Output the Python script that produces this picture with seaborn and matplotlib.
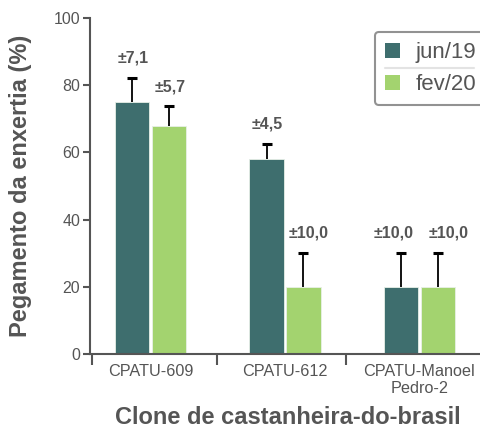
import matplotlib
matplotlib.use("Agg")
import matplotlib.pyplot as plt
from matplotlib.lines import Line2D
from matplotlib.patches import Patch
import numpy as np
import pandas as pd
import seaborn as sns

# %% DATA ────────────────────────────────────────────────────────────────
clones = ["CPATU-609", "CPATU-612", "CPATU-Manoel\nPedro-2"]
periods = ["jun/19", "fev/20"]
jun19_vals = [75.0, 58.0, 20.0]
fev20_vals = [68.0, 20.0, 20.0]
jun19_err = [7.1, 4.5, 10.0]
fev20_err = [5.7, 10.0, 10.0]
err_labels = {"jun/19": ["±7,1", "±4,5", "±10,0"],
              "fev/20": ["±5,7", "±10,0", "±10,0"]}
yticks = [0, 20, 40, 60, 80, 100]

# %% STYLE ───────────────────────────────────────────────────────────────
sns.set_theme(style="ticks")
plt.rcParams["font.family"] = ["Liberation Sans", "DejaVu Sans"]
GREY = "#555555"
palette = {"jun/19": "#3e6e6e", "fev/20": "#a3d36f"}
# horizontal nudge of the ± labels (points), so neighbours do not collide
label_dx = {"jun/19": [1, 0.5, -5.5], "fev/20": [0.5, 4, 7.5]}

df = pd.DataFrame({
    "clone": clones * 2,
    "periodo": ["jun/19"] * 3 + ["fev/20"] * 3,
    "valor": jun19_vals + fev20_vals,
    "erro": jun19_err + fev20_err,
})

fig = plt.figure(figsize=(4.8, 4.29), dpi=100)
ax = fig.add_axes([90 / 480, 1 - 354 / 429, 390 / 480, 336 / 429])

sns.barplot(data=df, x="clone", y="valor", hue="periodo", order=clones,
            hue_order=periods, palette=palette, saturation=1, width=0.55,
            gap=0.08, linewidth=0.6, edgecolor="#e8f0e8", errorbar=None,
            legend=False, ax=ax)

# error bars (upper only) + labels, placed at each bar centre
for container, per in zip(ax.containers, periods):
    sub = df[df["periodo"] == per].set_index("clone").loc[clones]
    xs = [p.get_x() + p.get_width() / 2 for p in container.patches]
    tops = sub["valor"] + sub["erro"]
    ax.errorbar(xs, sub["valor"], yerr=[np.zeros(len(xs)), sub["erro"]],
                fmt="none", ecolor="black", elinewidth=1.3, capsize=0,
                zorder=0.5)
    ax.plot(xs, tops, ls="none", marker="_", ms=7, mew=2.2, color="black")
    for x, t, lab, dx in zip(xs, tops, err_labels[per], label_dx[per]):
        ax.annotate(lab, (x, t), xytext=(dx, 11), textcoords="offset points",
                    ha="center", va="baseline", fontsize=11.5,
                    fontweight="bold", color=GREY)

ax.set_ylim(0, 100)
ax.set_xlim(-0.45, 2.45)
ax.set_yticks(yticks)
ax.tick_params(axis="y", colors=GREY, labelsize=11.5, length=5, width=1.5,
               labelcolor=GREY, pad=2)
ax.tick_params(axis="x", which="major", length=0, labelsize=11.7,
               labelcolor=GREY, pad=7)
ax.set_xticks([-0.435, 0.495, 1.455], minor=True)
ax.tick_params(axis="x", which="minor", length=8, width=1.5, colors=GREY)

sns.despine(ax=ax)
for side in ["left", "bottom"]:
    ax.spines[side].set_color(GREY)
    ax.spines[side].set_linewidth(1.5)

ax.set_ylabel("Pegamento da enxertia (%)", fontsize=17, fontweight="bold",
              color=GREY)
ax.set_xlabel("Clone de castanheira-do-brasil", fontsize=17,
              fontweight="bold", color=GREY)
ax.yaxis.label.set_va("center")
ax.xaxis.label.set_va("center")
ax.yaxis.set_label_coords(-0.177, 0.5)
ax.xaxis.set_label_coords(0.508, -0.1875)

handles = [Patch(facecolor=palette[p], edgecolor="none", label=p) for p in periods]
leg = fig.legend(handles=handles, loc="upper left",
                 bbox_to_anchor=(375 / 480, 1 - 32 / 429),
                 fontsize=16, frameon=True, fancybox=True,
                 handlelength=0.68, handleheight=0.68, handletextpad=0.7,
                 borderpad=0.45, labelspacing=0.5, borderaxespad=0)
leg.get_frame().set_edgecolor("#777777")
leg.get_frame().set_linewidth(1.5)
for t in leg.get_texts():
    t.set_color(GREY)

# separator line inside the legend box
fig.add_artist(Line2D([385 / 480, 474 / 480], [1 - 68 / 429, 1 - 68 / 429],
                      transform=fig.transFigure, color="#777777", lw=1.5))

fig.savefig("out.png", dpi=100)
